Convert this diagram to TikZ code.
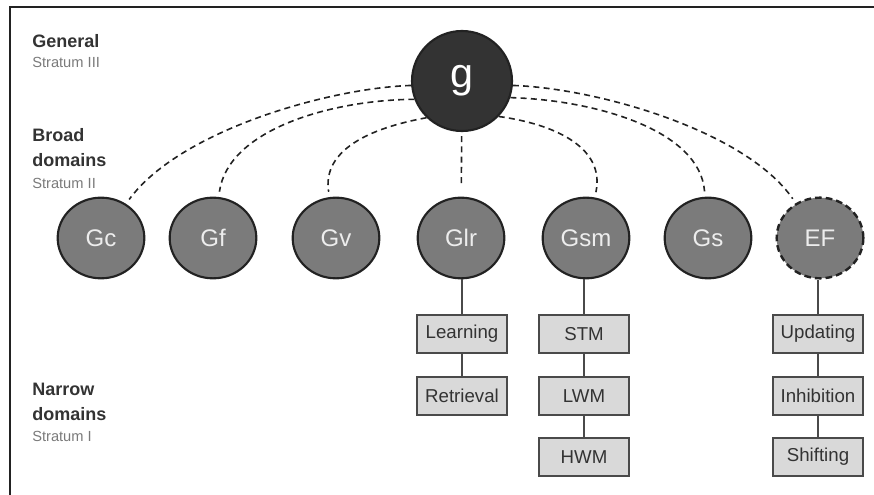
\documentclass[tikz,border=0pt]{standalone}
\usepackage{fontspec}
\setmainfont{Liberation Sans}
\usetikzlibrary{shapes.geometric}
\definecolor{ink}{HTML}{222222}
\definecolor{gdark}{HTML}{333333}
\definecolor{broadfill}{HTML}{7B7B7B}
\definecolor{boxfill}{HTML}{D9D9D9}
\definecolor{boxline}{HTML}{4A4A4A}
\definecolor{subgray}{HTML}{7A7A7A}
\definecolor{headgray}{HTML}{333333}
\begin{document}
\begin{tikzpicture}[x=0.75pt,y=-0.75pt,
  gnode/.style={circle, draw=ink, line width=1.6pt, fill=gdark, minimum size=75pt, inner sep=0pt, text=white, font=\fontsize{31}{31}\selectfont},
  broad/.style={ellipse, draw=ink, line width=1.6pt, fill=broadfill, minimum width=65pt, minimum height=60.5pt, inner sep=0pt, text=white!93!black, font=\fontsize{18}{18}\selectfont},
  narrowbox/.style={draw=boxline, line width=1.1pt, fill=boxfill, minimum width=67.5pt, minimum height=28.5pt, inner sep=0pt, text=headgray, font=\fontsize{14}{14}\selectfont},
  link/.style={draw=ink, line width=1.2pt, dash pattern=on 4.5pt off 3.2pt, shorten >=4pt},
  tie/.style={draw=boxline, line width=1.3pt},
  head/.style={anchor=base west, inner sep=0pt, text=headgray, font=\bfseries\fontsize{13.5}{14}\selectfont},
  sub/.style={anchor=base west, inner sep=0pt, text=subgray, font=\fontsize{11}{12}\selectfont}]
\useasboundingbox (0,0) rectangle (874,495);
% frame (top and left edges)
\draw[line width=2pt, draw=ink] (10,495) -- (10,7) -- (874,7);
% stratum labels
\node[head] (l1) at (32,48) {General};
\node[sub] (l2) at (32,68) {Stratum III};
\node[head] (l3) at (32,142) {Broad};
\node[head] (l4) at (32,167) {domains};
\node[sub] (l5) at (32,189) {Stratum II};
\node[head] (l6) at (32,395) {Narrow};
\node[head] (l7) at (32,420) {domains};
\node[sub] (l8) at (32,441) {Stratum I};
% general factor
\node[gnode] (g) at (462,81) {g};
% broad domains
\node[broad] (Gc) at (101,238) {Gc};
\node[broad] (Gf) at (213,238) {Gf};
\node[broad] (Gv) at (336,238) {Gv};
\node[broad] (Glr) at (461,238) {Glr};
\node[broad] (Gsm) at (586,238) {Gsm};
\node[broad] (Gs) at (708,238) {Gs};
\node[broad, dash pattern=on 5pt off 3pt, line width=1.8pt] (EF) at (820,238) {EF};
% dashed links
\draw[link] (g.185) .. controls (330,88) and (180,130) .. (Gc);
\draw[link] (g.201) .. controls (330,100) and (228,130) .. (Gf);
\draw[link] (g.226) .. controls (370,128) and (322,150) .. (Gv);
\draw[link, shorten <=3pt, shorten >=10pt] (g) -- (Glr);
\draw[link] (g.316) .. controls (560,125) and (605,150) .. (Gsm);
\draw[link] (g.341) .. controls (595,100) and (700,130) .. (Gs);
\draw[link] (g.355) .. controls (595,88) and (745,130) .. (EF);
% narrow domains
\node[narrowbox] (lrn) at (462,334) {Learning};
\node[narrowbox] (ret) at (462,396) {Retrieval};
\node[narrowbox] (stm) at (584,334) {STM};
\node[narrowbox] (lwm) at (584,396) {LWM};
\node[narrowbox] (hwm) at (584,457) {HWM};
\node[narrowbox] (upd) at (818,334) {Updating};
\node[narrowbox] (inh) at (818,396) {Inhibition};
\node[narrowbox] (shf) at (818,457) {Shifting};
% solid ties
\draw[tie] (Glr.south -| lrn.north) -- (lrn);
\draw[tie] (lrn) -- (ret);
\draw[tie] (Gsm.south -| stm.north) -- (stm);
\draw[tie] (stm) -- (lwm);
\draw[tie] (lwm) -- (hwm);
\draw[tie] (EF.south -| upd.north) -- (upd);
\draw[tie] (upd) -- (inh);
\draw[tie] (inh) -- (shf);
\end{tikzpicture}
\end{document}
